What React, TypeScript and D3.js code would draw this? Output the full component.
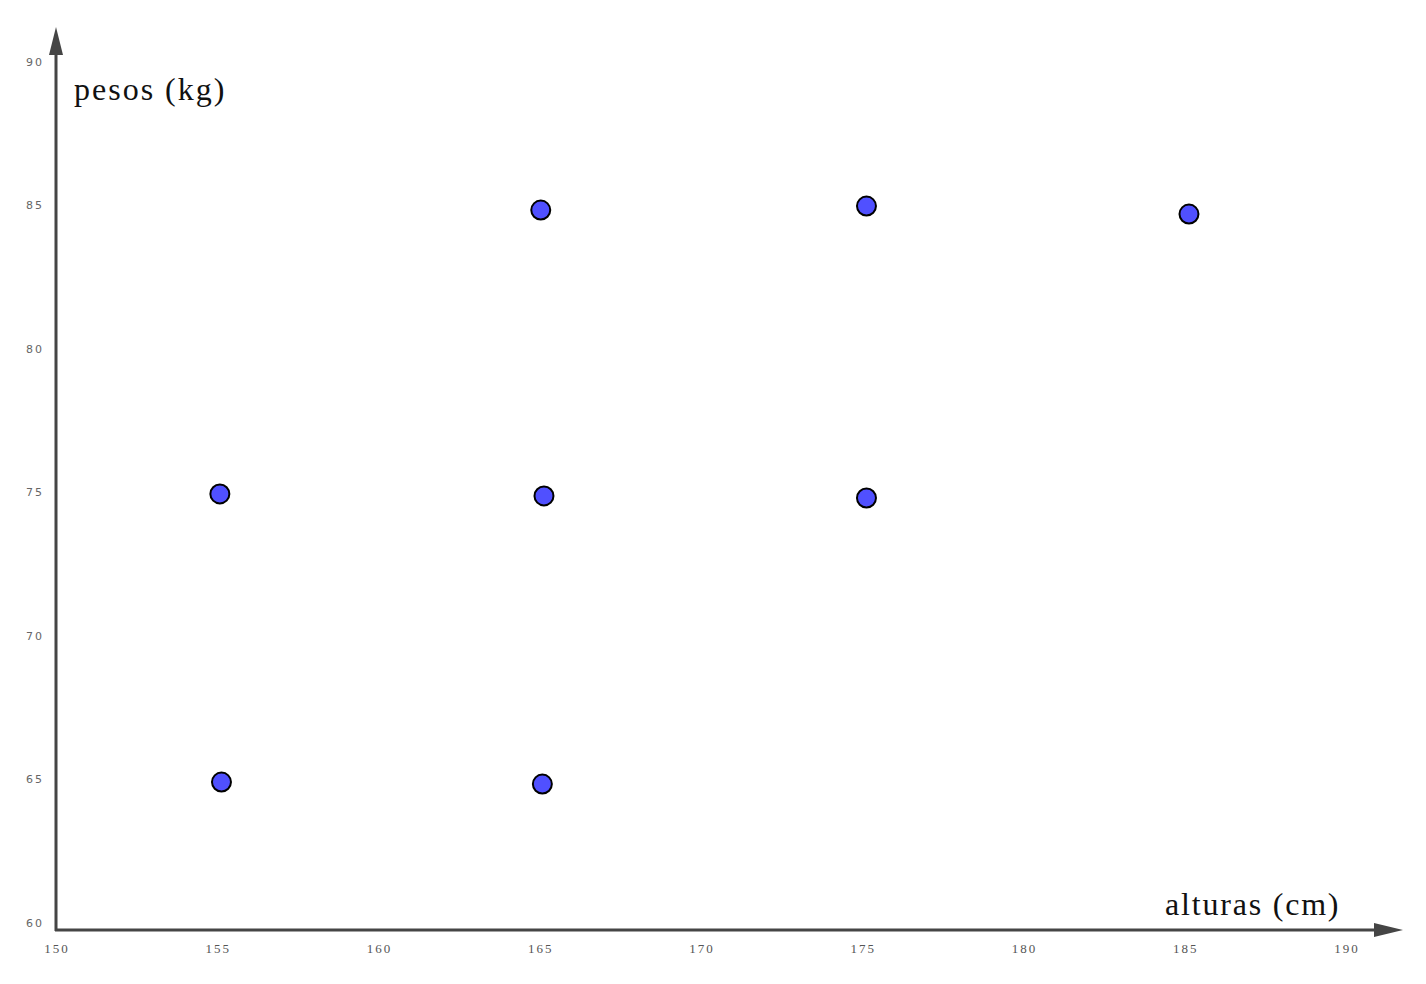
import React from 'react';
import * as d3 from 'd3';

const alturas = [155.05, 155.1, 165.0, 165.1, 165.05, 175.1, 175.1, 185.1];
const pesos = [74.95, 64.91, 84.84, 74.88, 64.84, 84.98, 74.81, 84.7];
const xTicks = [150, 155, 160, 165, 170, 175, 180, 185, 190];
const yTicks = [60, 65, 70, 75, 80, 85, 90];

export default function App() {
    const width = 1426;
    const height = 984;

    const x = d3.scaleLinear().domain([150, 190]).range([56, 1346]);
    const y = d3.scaleLinear().domain([60, 90]).range([923, 62]);

    const axisColor = '#454545';
    const ox = 56;
    const oy = 930;

    const points = alturas.map((a, i) => (
        <circle key={i} cx={x(a) + 1} cy={y(pesos[i])} r={9.5} fill="#5050ff" stroke="#000" strokeWidth={2} />
    ));

    return (
        <svg width={width} height={height} style={{ position: 'absolute', left: 0, top: 0 }}>
            <line x1={ox} y1={oy + 1} x2={ox} y2={50} stroke={axisColor} strokeWidth={3} />
            <path d={d3.line()([[ox - 7, 55], [ox, 27], [ox + 7, 55]]) + 'Z'} fill={axisColor} />
            <line x1={ox - 1} y1={oy} x2={1380} y2={oy} stroke={axisColor} strokeWidth={3} />
            <path d={d3.line()([[1374, oy - 7], [1403, oy], [1374, oy + 7]]) + 'Z'} fill={axisColor} />

            <g fontFamily="DejaVu Sans" fontSize={11} fill="#666" letterSpacing={2}>
                {yTicks.map(t => (
                    <text key={t} x={44} y={y(t)} dy="0.35em" textAnchor="end">{t}</text>
                ))}
            </g>
            <g fontFamily="Liberation Serif" fontSize={13} fill="#555" letterSpacing={2}>
                {xTicks.map(t => (
                    <text key={t} x={x(t) + 1} y={948} dy="0.35em" textAnchor="middle">{t}</text>
                ))}
            </g>

            <text x={74} y={100} fontFamily="Liberation Serif" fontSize={32} letterSpacing={2} fill="#111">pesos (kg)</text>
            <text x={1165} y={915} fontFamily="Liberation Serif" fontSize={32} letterSpacing={1.8} fill="#111">alturas (cm)</text>

            <g>{points}</g>
        </svg>
    );
}
